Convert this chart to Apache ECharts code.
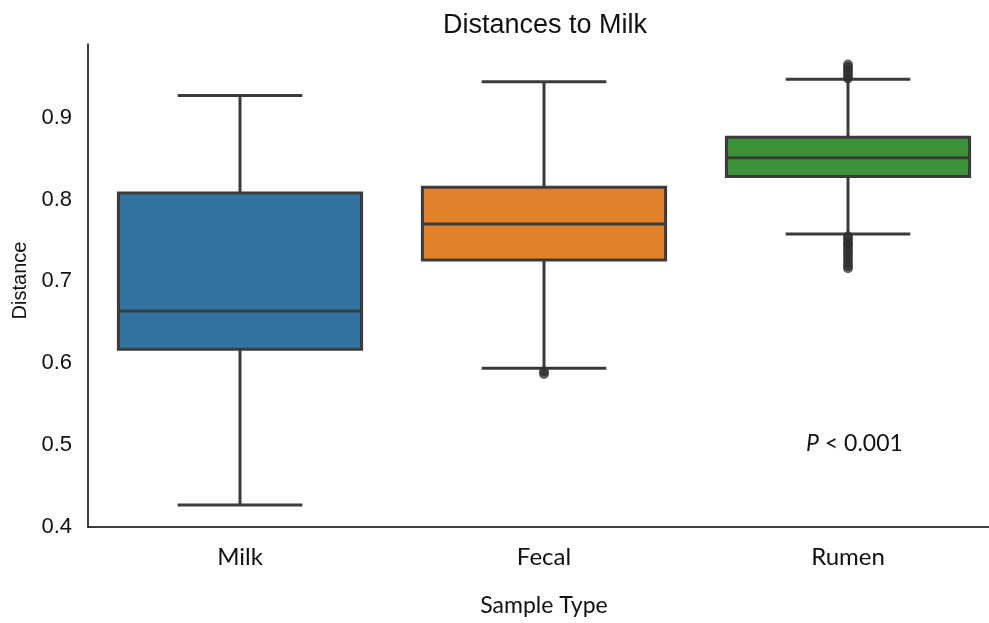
<!DOCTYPE html>
<html>
<head>
<meta charset="utf-8">
<script src="https://cdn.jsdelivr.net/npm/echarts@6/dist/echarts.min.js"></script>
<style>
  html, body { margin: 0; padding: 0; background: #fff; overflow: hidden; }
  #chart { width: 989px; height: 623px; }
</style>
</head>
<body>
<div id="chart"></div>
<script>
// Box statistics per sample type
const categories = ['Milk', 'Fecal', 'Rumen'];
const whiskerLow = [0.427, 0.594, 0.758];
const quartile1 = [0.617, 0.726, 0.828];
const medians = [0.664, 0.770, 0.851];
const quartile3 = [0.808, 0.815, 0.876];
const whiskerHigh = [0.927, 0.944, 0.947];

// Points beyond the whiskers
const fecalOutliers = [0.590, 0.587];
const rumenOutliers = [0.965, 0.962, 0.958, 0.955, 0.951, 0.948,
  0.755, 0.752, 0.748, 0.745, 0.742, 0.738, 0.735, 0.731, 0.727, 0.723, 0.719, 0.716];

const yTicks = [0.4, 0.5, 0.6, 0.7, 0.8, 0.9];
const boxColors = ['#3274a1', '#e1812c', '#3a923a'];
const edge = '#3b3b3b';

const boxData = categories.map((c, i) => [i, whiskerLow[i], quartile1[i], medians[i], quartile3[i], whiskerHigh[i]]);
const outlierData = [];
fecalOutliers.forEach(v => outlierData.push([1, v]));
rumenOutliers.forEach(v => outlierData.push([2, v]));

function renderBox(params, api) {
  const idx = api.value(0);
  const band = api.size([1, 0])[0];
  const boxW = band * 0.8;
  const capW = band * 0.41;
  const pLow = api.coord([idx, api.value(1)]);
  const pQ1 = api.coord([idx, api.value(2)]);
  const pMed = api.coord([idx, api.value(3)]);
  const pQ3 = api.coord([idx, api.value(4)]);
  const pHigh = api.coord([idx, api.value(5)]);
  const x = pMed[0];
  const lineStyle = { stroke: edge, lineWidth: 3, fill: null };
  return {
    type: 'group',
    children: [
      { type: 'line', shape: { x1: x, y1: pQ1[1], x2: x, y2: pLow[1] }, style: lineStyle },
      { type: 'line', shape: { x1: x, y1: pQ3[1], x2: x, y2: pHigh[1] }, style: lineStyle },
      { type: 'line', shape: { x1: x - capW / 2, y1: pLow[1], x2: x + capW / 2, y2: pLow[1] }, style: lineStyle },
      { type: 'line', shape: { x1: x - capW / 2, y1: pHigh[1], x2: x + capW / 2, y2: pHigh[1] }, style: lineStyle },
      { type: 'rect', shape: { x: x - boxW / 2, y: pQ3[1], width: boxW, height: pQ1[1] - pQ3[1] },
        style: { fill: boxColors[idx], stroke: edge, lineWidth: 3 } },
      { type: 'line', shape: { x1: x - boxW / 2, y1: pMed[1], x2: x + boxW / 2, y2: pMed[1] }, style: lineStyle }
    ]
  };
}

const chart = echarts.init(document.getElementById('chart'));
chart.setOption({
  backgroundColor: '#ffffff',
  animation: false,
  title: {
    text: 'Distances to Milk',
    left: 540, top: 7, textAlign: 'center',
    textStyle: { fontFamily: 'Liberation Sans, Arial', fontSize: 27, fontWeight: 'normal', color: '#111' }
  },
  // plot area runs slightly past the right edge of the canvas
  grid: { left: 88, right: -11, top: 44, bottom: 96, containLabel: false, outerBoundsMode: 'none' },
  xAxis: {
    type: 'category',
    data: categories,
    boundaryGap: true,
    axisTick: { show: false },
    axisLine: { lineStyle: { color: '#000', width: 1.5 } },
    axisLabel: { fontFamily: 'Lato', fontSize: 24, color: '#111', margin: 18 },
    name: 'Sample Type',
    nameLocation: 'middle',
    nameGap: 67,
    nameTextStyle: { fontFamily: 'Lato', fontSize: 23, color: '#111' }
  },
  yAxis: {
    type: 'value',
    min: 0.4, max: 0.99, interval: 0.1,
    splitLine: { show: false },
    axisTick: { show: false },
    axisLine: { show: true, lineStyle: { color: '#000', width: 1.5 } },
    axisLabel: {
      fontFamily: 'Liberation Sans, Arial', fontSize: 22, color: '#111', margin: 16,
      showMaxLabel: false,
      formatter: v => (yTicks.some(t => Math.abs(t - v) < 1e-9) ? v.toFixed(1) : '')
    },
    name: 'Distance',
    nameLocation: 'middle',
    nameRotate: 90,
    nameGap: 58,
    nameTextStyle: { fontFamily: 'Liberation Sans, Arial', fontSize: 20, color: '#111', padding: [0, 0, 0, 10] }
  },
  series: [
    {
      type: 'custom',
      renderItem: renderBox,
      data: boxData,
      encode: { x: 0, y: [1, 2, 3, 4, 5] },
      z: 2
    },
    {
      type: 'scatter',
      data: outlierData,
      symbolSize: 10,
      itemStyle: { color: '#2e2e2e', opacity: 0.75 },
      z: 3
    }
  ],
  graphic: [{
    type: 'text',
    left: 806, top: 432,
    style: {
      text: '{p|P} < 0.001',
      rich: { p: { fontStyle: 'italic', fontFamily: 'Lato', fontSize: 23, fill: '#111' } },
      fontFamily: 'Lato', fontSize: 23, fill: '#111'
    }
  }]
});
</script>
</body>
</html>
